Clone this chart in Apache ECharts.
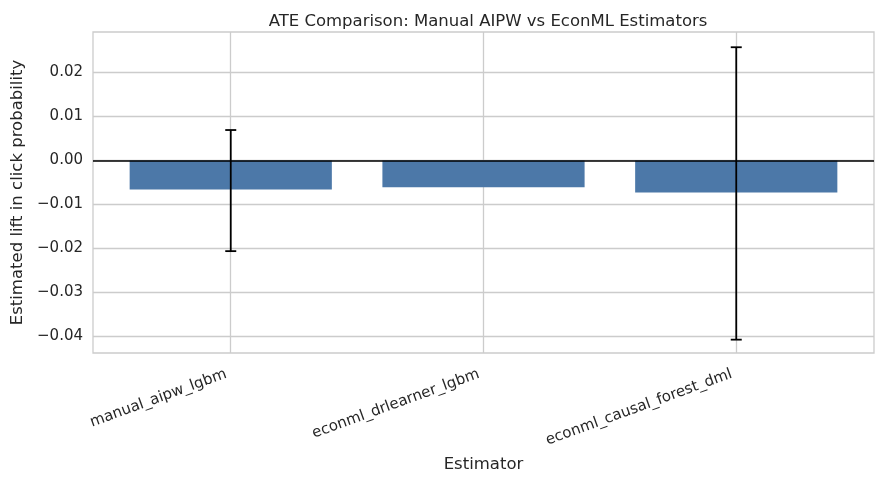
<!DOCTYPE html>
<html>
<head>
<meta charset="utf-8">
<title>ATE Comparison</title>
<script src="https://cdn.jsdelivr.net/npm/echarts@6/dist/echarts.min.js"></script>
<style>
	* { margin: 0; padding: 0; }
	body { background: #fff; }
	#main { width: 884px; height: 484px; }
</style>
</head>
<body>
<div id="main"></div>
<script>
	// 数据
	let estimators = ['manual_aipw_lgbm', 'econml_drlearner_lgbm', 'econml_causal_forest_dml'];
	let ateValues = [-0.0066, -0.0061, -0.0073];
	let ciLower = [-0.0206, null, -0.0407];
	let ciUpper = [0.0069, null, 0.0257];
	let yTicks = [-0.04, -0.03, -0.02, -0.01, 0.00, 0.01, 0.02];
	let xTicks = [0, 1, 2];

	let myChart = echarts.init(document.getElementById('main'));
	let textColor = '#262626';
	let gridColor = '#cccccc';
	let font = 'DejaVu Sans';

	let barData = ateValues.map((v, i) => [i, v]);
	let errData = [];
	ciLower.forEach((lo, i) => {
		if (lo != null) errData.push([i, lo, ciUpper[i]]);
	});

	let option = {
		animation: false,
		backgroundColor: '#ffffff',
		textStyle: { fontFamily: font },
		title: {
			text: 'ATE Comparison: Manual AIPW vs EconML Estimators',
			left: 483, textAlign: 'center', top: 8,
			textStyle: { fontFamily: font, fontSize: 16.5, fontWeight: 'normal', color: textColor }
		},
		grid: {
			left: 93, right: 10, top: 32, bottom: 131,
			show: true, borderColor: gridColor, borderWidth: 1.3
		},
		xAxis: {
			type: 'value',
			min: -0.545, max: 2.545,
			name: 'Estimator',
			nameLocation: 'middle',
			nameGap: 103,
			nameTextStyle: { fontFamily: font, fontSize: 16.5, color: textColor },
			axisLine: { show: false },
			axisTick: { show: false, customValues: xTicks },
			axisLabel: {
				customValues: xTicks,
				rotate: 20,
				margin: 19,
				padding: [0, 5, 0, 0],
				fontFamily: font, fontSize: 15, color: textColor,
				formatter: v => estimators[Math.round(v)] || ''
			},
			splitLine: { show: true, lineStyle: { color: gridColor, width: 1.3 } }
		},
		yAxis: {
			type: 'value',
			min: -0.04373, max: 0.02916,
			name: 'Estimated lift in click probability',
			nameLocation: 'middle',
			nameGap: 66,
			nameTextStyle: { fontFamily: font, fontSize: 16.5, color: textColor },
			axisLine: { show: false },
			axisTick: { show: false, customValues: yTicks },
			axisLabel: {
				customValues: yTicks,
				margin: 10,
				fontFamily: font, fontSize: 15, color: textColor,
				formatter: v => (v < -1e-9 ? '\u2212' : '') + Math.abs(v).toFixed(2)
			},
			splitLine: { show: true, lineStyle: { color: gridColor, width: 1.3 } }
		},
		series: [
			{
				type: 'custom',
				name: 'ate',
				data: barData,
				z: 2,
				renderItem: function (params, api) {
					let x = api.value(0), y = api.value(1);
					let p0 = api.coord([x - 0.4, 0]);
					let p1 = api.coord([x + 0.4, y]);
					return {
						type: 'rect',
						shape: { x: p0[0], y: Math.min(p0[1], p1[1]), width: p1[0] - p0[0], height: Math.abs(p1[1] - p0[1]) },
						style: { fill: '#4c78a8' }
					};
				},
				markLine: {
					silent: true, symbol: 'none', label: { show: false },
					lineStyle: { color: '#000000', width: 1.5, type: 'solid' },
					data: [{ yAxis: 0 }],
					z: 3
				}
			},
			{
				type: 'custom',
				name: 'ci',
				data: errData,
				z: 4,
				renderItem: function (params, api) {
					let x = api.value(0);
					let lo = api.coord([x, api.value(1)]);
					let hi = api.coord([x, api.value(2)]);
					let cap = 5.5;
					let st = { stroke: '#000000', lineWidth: 1.8 };
					return {
						type: 'group',
						children: [
							{ type: 'line', shape: { x1: lo[0], y1: lo[1], x2: hi[0], y2: hi[1] }, style: st },
							{ type: 'line', shape: { x1: lo[0] - cap, y1: lo[1], x2: lo[0] + cap, y2: lo[1] }, style: st },
							{ type: 'line', shape: { x1: hi[0] - cap, y1: hi[1], x2: hi[0] + cap, y2: hi[1] }, style: st }
						]
					};
				}
			}
		]
	};
	myChart.setOption(option);
</script>
</body>
</html>
